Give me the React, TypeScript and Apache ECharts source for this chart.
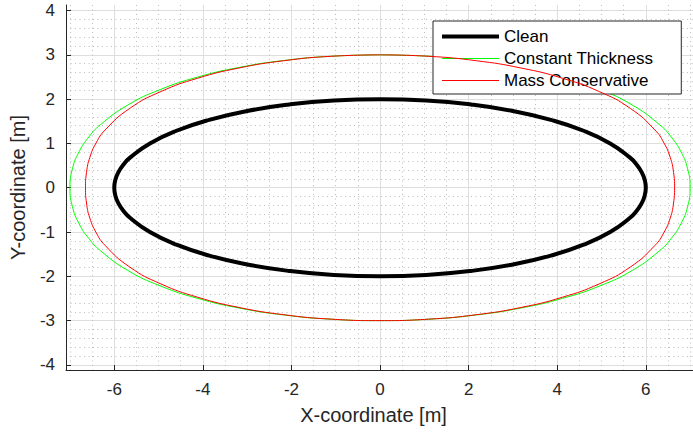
import React, { useEffect, useRef } from "react";
import * as echarts from "echarts";

// Closed curves, listed point by point (x, y in metres)
const cleanCurve: [number, number][] = [
  [0, 2], [-1.042, 1.97], [-2.052, 1.879], [-3.0, 1.732], [-3.857, 1.532], [-4.596, 1.286],
  [-5.196, 1.0], [-5.638, 0.684], [-5.796, 0.518], [-5.909, 0.347], [-5.977, 0.174], [-6, 0],
  [-5.977, -0.174], [-5.909, -0.347], [-5.796, -0.518], [-5.638, -0.684], [-5.196, -1.0],
  [-4.596, -1.286], [-3.857, -1.532], [-3.0, -1.732], [-2.052, -1.879], [-1.042, -1.97], [0, -2],
  [1.042, -1.97], [2.052, -1.879], [3.0, -1.732], [3.857, -1.532], [4.596, -1.286], [5.196, -1.0],
  [5.638, -0.684], [5.796, -0.518], [5.909, -0.347], [5.977, -0.174], [6, 0], [5.977, 0.174],
  [5.909, 0.347], [5.796, 0.518], [5.638, 0.684], [5.196, 1.0], [4.596, 1.286], [3.857, 1.532],
  [3.0, 1.732], [2.052, 1.879], [1.042, 1.97], [0, 2],
];

const constantThicknessCurve: [number, number][] = [
  [0, 3], [-1.101, 2.968], [-2.172, 2.872], [-3.189, 2.714], [-4.126, 2.495], [-4.965, 2.215],
  [-5.696, 1.866], [-6.313, 1.421], [-6.575, 1.145], [-6.793, 0.815], [-6.944, 0.428], [-7, 0],
  [-6.944, -0.428], [-6.793, -0.815], [-6.575, -1.145], [-6.313, -1.421], [-5.696, -1.866],
  [-4.965, -2.215], [-4.126, -2.495], [-3.189, -2.714], [-2.172, -2.872], [-1.101, -2.968], [0, -3],
  [1.101, -2.968], [2.172, -2.872], [3.189, -2.714], [4.126, -2.495], [4.965, -2.215], [5.696, -1.866],
  [6.313, -1.421], [6.575, -1.145], [6.793, -0.815], [6.944, -0.428], [7, 0], [6.944, 0.428],
  [6.793, 0.815], [6.575, 1.145], [6.313, 1.421], [5.696, 1.866], [4.965, 2.215], [4.126, 2.495],
  [3.189, 2.714], [2.172, 2.872], [1.101, 2.968], [0, 3],
];

const massConservativeCurve: [number, number][] = [
  [0, 3], [-1.101, 2.967], [-2.172, 2.867], [-3.187, 2.702], [-4.12, 2.471], [-4.948, 2.171],
  [-5.652, 1.79], [-6.206, 1.304], [-6.41, 1.011], [-6.551, 0.687], [-6.627, 0.345], [-6.65, 0],
  [-6.627, -0.345], [-6.551, -0.687], [-6.41, -1.011], [-6.206, -1.304], [-5.652, -1.79],
  [-4.948, -2.171], [-4.12, -2.471], [-3.187, -2.702], [-2.172, -2.867], [-1.101, -2.967], [0, -3],
  [1.101, -2.967], [2.172, -2.867], [3.187, -2.702], [4.12, -2.471], [4.948, -2.171], [5.652, -1.79],
  [6.206, -1.304], [6.41, -1.011], [6.551, -0.687], [6.627, -0.345], [6.65, 0], [6.627, 0.345],
  [6.551, 0.687], [6.41, 1.011], [6.206, 1.304], [5.652, 1.79], [4.948, 2.171], [4.12, 2.471],
  [3.187, 2.702], [2.172, 2.867], [1.101, 2.967], [0, 3],
];

const seriesNames = ["Clean", "Constant Thickness", "Mass Conservative"];
const seriesColors = ["#000000", "#00ff00", "#ff0000"];
const seriesWidths = [4, 1, 1];
const curves = [cleanCurve, constantThicknessCurve, massConservativeCurve];

const xAxisName = "X-coordinate [m]";
const yAxisName = "Y-coordinate [m]";

const FONT = "'Liberation Sans', Arial, Helvetica, sans-serif";
const AXIS_COLOR = "#262626";

export default function App() {
  const ref = useRef<HTMLDivElement>(null);

  useEffect(() => {
    const chart = echarts.init(ref.current!, null, { renderer: "svg" });
    const axisCommon = {
      type: "value",
      axisLine: { show: true, onZero: false, lineStyle: { color: AXIS_COLOR, width: 1 } },
      axisTick: { show: true, inside: true, length: 5, lineStyle: { color: AXIS_COLOR } },
      axisLabel: {
        color: AXIS_COLOR,
        fontSize: 17,
        fontFamily: FONT,
        margin: 11,
        showMinLabel: false,
        showMaxLabel: false,
      },
      splitLine: {
        show: true,
        showMinLine: false,
        showMaxLine: false,
        lineStyle: { color: "#dedede", width: 1 },
      },
      minorSplitLine: {
        show: true,
        lineStyle: { color: "#bdbdbd", width: 1, type: [1, 3.5] },
      },
      nameLocation: "middle",
    };

    chart.setOption({
      animation: false,
      backgroundColor: "#ffffff",
      textStyle: { fontFamily: FONT },
      grid: { left: 65, right: -1, top: 5, bottom: 63, containLabel: false },
      xAxis: {
        ...axisCommon,
        min: -7.09,
        max: 7.066,
        splitNumber: 7,
        minorTick: { show: false, splitNumber: 4 },
        name: xAxisName,
        nameGap: 35,
        nameTextStyle: {
          color: AXIS_COLOR,
          fontSize: 20,
          fontFamily: FONT,
          padding: [0, 12, 0, 0],
        },
      },
      yAxis: {
        ...axisCommon,
        min: -4.115,
        max: 4.125,
        splitNumber: 8,
        minorTick: { show: false, splitNumber: 5 },
        name: yAxisName,
        nameGap: 38,
        nameTextStyle: { color: AXIS_COLOR, fontSize: 20, fontFamily: FONT },
      },
      legend: {
        show: true,
        orient: "vertical",
        left: 433,
        top: 21,
        itemWidth: 57,
        itemHeight: 17,
        itemGap: 5,
        padding: [7, 28, 5, 7],
        backgroundColor: "#ffffff",
        borderColor: AXIS_COLOR,
        borderWidth: 1,
        textStyle: { color: "#000000", fontSize: 17, fontFamily: FONT },
        data: seriesNames.map((name, i) => ({
          name,
          lineStyle: { width: seriesWidths[i], color: seriesColors[i] },
          itemStyle: { opacity: 0 },
        })),
      },
      series: curves.map((curve, i) => ({
        name: seriesNames[i],
        type: "line",
        data: curve,
        smooth: true,
        symbol: "none",
        showSymbol: false,
        lineStyle: { color: seriesColors[i], width: seriesWidths[i] },
        itemStyle: { color: seriesColors[i] },
        z: i === 0 ? 5 : i === 1 ? 3 : 4,
      })),
    });
    return () => chart.dispose();
  }, []);

  return (
    <div
      ref={ref}
      style={{ position: "absolute", left: 0, top: 0, width: 693, height: 433 }}
    />
  );
}
